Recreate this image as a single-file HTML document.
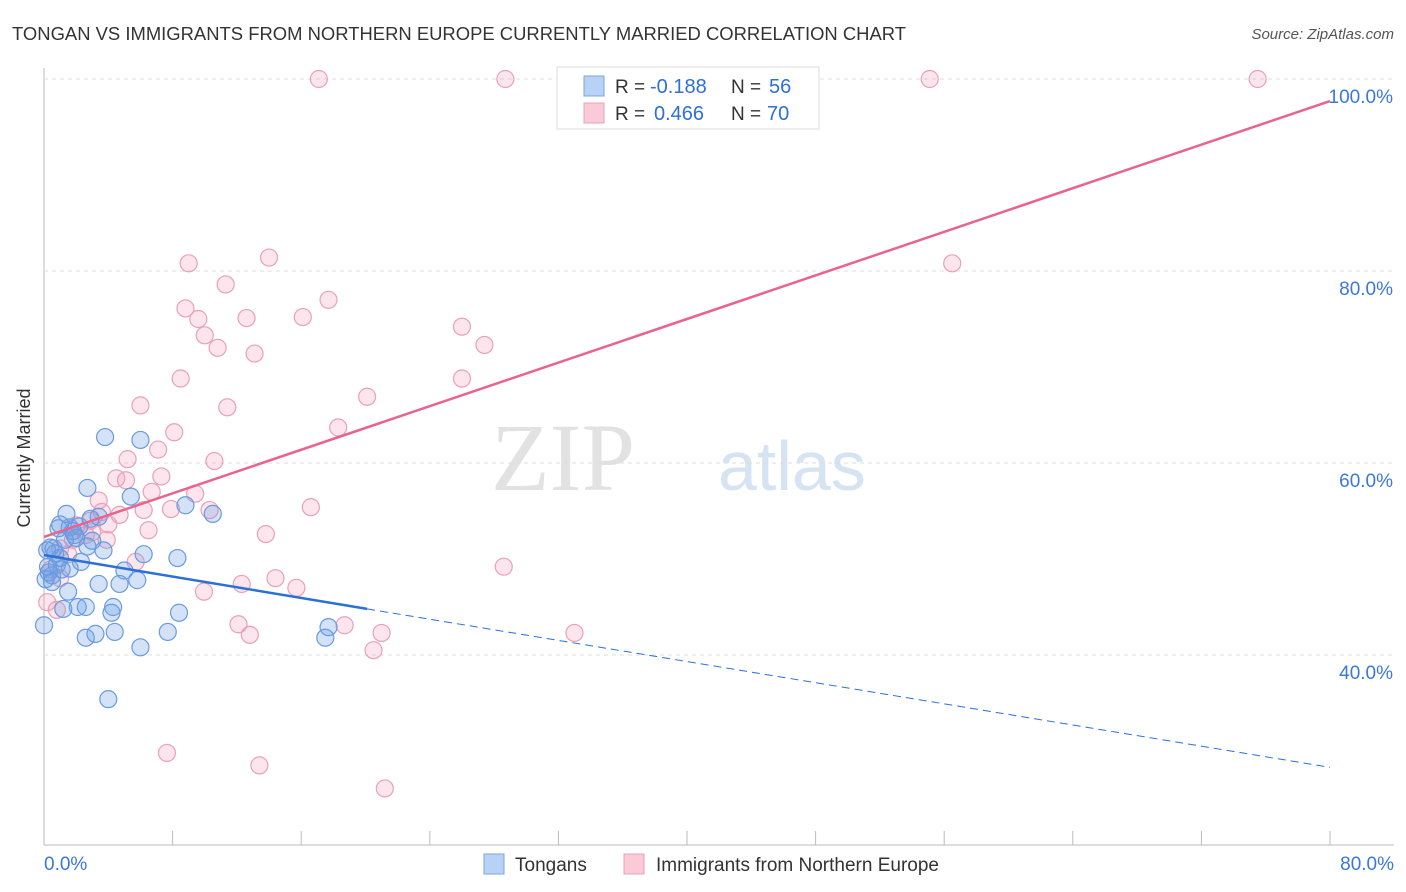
<!DOCTYPE html>
<html><head><meta charset="utf-8"><style>
body{margin:0;background:#fff;font-family:"Liberation Sans",sans-serif}
svg{display:block}
</style></head><body>
<svg id="c" width="1406" height="892" xmlns="http://www.w3.org/2000/svg">
<text x="12" y="40" font-size="18" fill="#333" textLength="894" lengthAdjust="spacingAndGlyphs">TONGAN VS IMMIGRANTS FROM NORTHERN EUROPE CURRENTLY MARRIED CORRELATION CHART</text>
<text x="1394" y="39" font-size="15" fill="#555" font-style="italic" text-anchor="end">Source: ZipAtlas.com</text>
<text x="30" y="458" font-size="18" fill="#333" transform="rotate(-90 30 458)" text-anchor="middle">Currently Married</text>
<g><text x="635" y="490" font-size="96" font-family="Liberation Serif,serif" fill="#e2e2e2" text-anchor="end">ZIP</text><text x="718" y="490" font-size="70" fill="#d5e3f3">atlas</text></g>
<g id="grid"></g><g id="pts"></g><g id="lines"></g>
<g>
<rect x="557" y="67" width="262" height="62" fill="#fff" stroke="#ddd"/>
<rect x="584" y="76" width="20" height="20" fill="#b8d2f5" stroke="#7aa6e0"/>
<rect x="584" y="103" width="20" height="20" fill="#f9cad8" stroke="#eaa0b8"/>
<text x="615" y="93" font-size="19" fill="#333">R =</text><text x="650" y="93" font-size="20" fill="#2f6fd6">-0.188</text>
<text x="731" y="93" font-size="19" fill="#333">N =</text><text x="769" y="93" font-size="20" fill="#2f6fd6">56</text>
<text x="615" y="120" font-size="19" fill="#333">R =</text><text x="654" y="120" font-size="20" fill="#2f6fd6">0.466</text>
<text x="731" y="120" font-size="19" fill="#333">N =</text><text x="767" y="120" font-size="20" fill="#2f6fd6">70</text>
</g>
<g>
<rect x="484" y="854" width="20" height="20" fill="#b8d2f5" stroke="#7aa6e0"/>
<text x="515" y="871" font-size="19" fill="#333">Tongans</text>
<rect x="624" y="854" width="20" height="20" fill="#f9cad8" stroke="#eaa0b8"/>
<text x="656" y="871" font-size="19" fill="#333">Immigrants from Northern Europe</text>
</g>
</svg>
<script>
const yTicks=[40,60,80,100];
const xTickLabels=["0.0%","80.0%"];
const blueX=[3.8,6.0,2.7,5.4,8.8,10.5,1.4,3.4,0.9,1.6,1.9,2.7,3.7,6.2,8.3,0.6,1.0,2.3,5.0,0.25,0.5,3.4,4.7,5.8,1.5,2.1,2.6,4.3,4.2,8.4,1.2,0,3.2,2.6,4.4,7.7,6.0,17.7,17.5,4.0,0.4,0.8,1.8,2.9,1.0,0.1,1.3,2.2,0.3,0.7,1.6,3.0,2.0,0.5,1.1,0.2];
const blueY=[62.7,62.4,57.4,56.5,55.6,54.7,54.7,54.4,53.2,53.3,52.5,51.3,50.9,50.5,50.1,51.1,50.1,49.7,48.8,49.2,48.3,47.4,47.4,47.8,46.6,45.0,45.0,45.0,44.4,44.4,44.8,43.1,42.2,41.8,42.4,42.4,40.8,42.9,41.8,35.4,51.2,49.4,52.9,54.2,53.6,47.9,52.0,53.4,48.6,50.6,49.0,51.9,52.2,47.6,48.9,50.9];
const pinkX=[17.1,28.7,55.1,75.5,56.5,9.0,14.0,11.3,17.7,8.8,16.1,9.6,12.6,10.0,26.0,27.4,10.8,13.1,8.5,26.0,20.1,6.0,11.4,18.3,8.1,7.1,5.2,10.6,7.3,4.5,5.1,6.7,9.4,3.4,16.6,7.9,10.3,6.2,3.6,4.7,2.9,4.0,6.5,2.6,13.8,1.8,3.9,1.0,5.7,28.6,14.4,12.3,15.7,9.95,1.0,0.8,12.1,18.7,12.8,21.0,33.0,20.5,7.65,13.4,21.2,0.4,2.0,3.0,1.5,0.2];
const pinkY=[100,100,100,100,80.8,80.8,81.4,78.6,77.0,76.1,75.2,75.0,75.1,73.3,74.2,72.3,72.0,71.4,68.8,68.8,66.9,66.0,65.8,63.7,63.2,61.4,60.4,60.2,58.6,58.4,58.2,57.0,56.8,56.1,55.4,55.2,55.1,55.1,54.9,54.6,54.0,53.6,53.0,52.5,52.6,52.0,52.0,51.1,49.7,49.2,48.0,47.4,47.0,46.6,48.0,44.7,43.2,43.1,42.1,42.3,42.3,40.5,29.8,28.5,26.1,48.9,53.5,52.8,50.5,45.5];
const blueLine=[[0,50.4],[20.1,44.8],[80,28.3]];
const pinkLine=[[0,52.3],[80,97.7]];
const NS="http://www.w3.org/2000/svg";
const xs=v=>44+v*16.075, ys=v=>79+(100-v)*9.6;
function mk(t,a,p){const e=document.createElementNS(NS,t);for(const k in a)e.setAttribute(k,a[k]);p.appendChild(e);return e;}
const g=document.getElementById('grid');
mk('line',{x1:44,y1:68,x2:44,y2:845,stroke:'#bbb'},g);
mk('line',{x1:44,y1:845,x2:1394,y2:845,stroke:'#bbb'},g);
for(let i=0;i<=10;i++){const x=xs(i*8);const t=mk('line',{x1:x,y1:845,x2:x,y2:831,stroke:'#bbb'},g);

}
yTicks.forEach(v=>{const y=ys(v);mk('line',{x1:44,y1:y,x2:1394,y2:y,stroke:'#ddd','stroke-dasharray':'4,4'},g);
const t=mk('text',{x:1393,y:y+24,'font-size':19,fill:'#3b78d8','text-anchor':'end'},g);t.textContent=v.toFixed(1)+'%';

});
[[0,'start',44],[1,'end',1394]].forEach(([i,a,x])=>{const t=mk('text',{x:x,y:870,'font-size':19,fill:'#3b78d8','text-anchor':a},g);t.textContent=xTickLabels[i];

});
const P=document.getElementById('pts');
pinkX.forEach((v,i)=>{const c=mk('circle',{cx:xs(v),cy:ys(pinkY[i]),r:8.5,fill:'rgba(242,150,180,0.25)',stroke:'#eaa0b8','stroke-width':1.2},P);

});
blueX.forEach((v,i)=>{const c=mk('circle',{cx:xs(v),cy:ys(blueY[i]),r:8.5,fill:'rgba(110,160,230,0.3)',stroke:'#6a9ae0','stroke-width':1.2},P);

});
const L=document.getElementById('lines');
let l=mk('line',{x1:xs(pinkLine[0][0]),y1:ys(pinkLine[0][1]),x2:xs(pinkLine[1][0]),y2:ys(pinkLine[1][1]),stroke:'#e8648f','stroke-width':2.5},L);


l=mk('line',{x1:xs(blueLine[0][0]),y1:ys(blueLine[0][1]),x2:xs(blueLine[1][0]),y2:ys(blueLine[1][1]),stroke:'#2c6fd6','stroke-width':2.5},L);


l=mk('line',{x1:xs(blueLine[1][0]),y1:ys(blueLine[1][1]),x2:xs(blueLine[2][0]),y2:ys(blueLine[2][1]),stroke:'#2c6fd6','stroke-width':1,'stroke-dasharray':'8,5'},L);


</script>
</body></html>
